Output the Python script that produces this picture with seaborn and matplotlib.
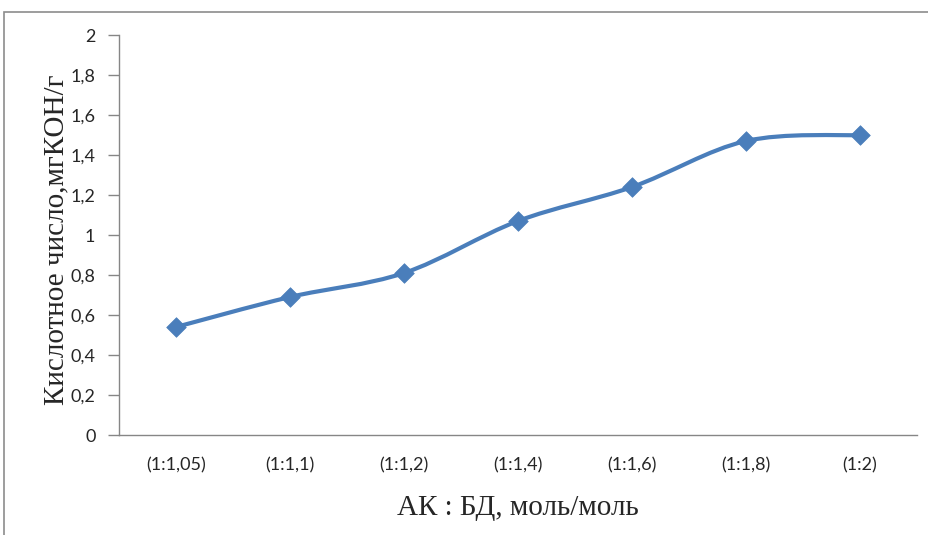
import numpy as np
import pandas as pd
import seaborn as sns
import matplotlib.pyplot as plt
from matplotlib.path import Path
from matplotlib.patches import PathPatch, Rectangle
from matplotlib.ticker import FuncFormatter

categories = ["(1:1,05)", "(1:1,1)", "(1:1,2)", "(1:1,4)", "(1:1,6)", "(1:1,8)", "(1:2)"]
values = [0.54, 0.69, 0.81, 1.07, 1.24, 1.47, 1.50]
y_ticks = [0, 0.2, 0.4, 0.6, 0.8, 1.0, 1.2, 1.4, 1.6, 1.8, 2.0]

sns.set_style("white")
plt.rcParams['font.family'] = ['Lato', 'DejaVu Sans']

color = "#4A7EBB"
df = pd.DataFrame({"x": np.arange(len(categories)) + 0.5, "y": values})

fig = plt.figure(figsize=(9.29, 5.35), dpi=100)
ax = fig.add_axes([119 / 929, 100 / 535, 798 / 929, 400 / 535])

# Excel-like smoothed line (cubic Bezier through points)
xs, ys = df["x"].to_numpy(), df["y"].to_numpy()
n = len(xs)
verts = [(xs[0], ys[0])]
codes = [Path.MOVETO]
for i in range(n - 1):
    p0 = np.array([xs[max(i - 1, 0)], ys[max(i - 1, 0)]])
    p1 = np.array([xs[i], ys[i]])
    p2 = np.array([xs[i + 1], ys[i + 1]])
    p3 = np.array([xs[min(i + 2, n - 1)], ys[min(i + 2, n - 1)]])
    c1 = p1 + (p2 - p0) / 6.0
    c2 = p2 - (p3 - p1) / 6.0
    verts += [tuple(c1), tuple(c2), tuple(p2)]
    codes += [Path.CURVE4] * 3
ax.add_patch(PathPatch(Path(verts, codes), fill=False, edgecolor=color, lw=3,
                       capstyle='round', joinstyle='round', zorder=2))

sns.scatterplot(data=df, x="x", y="y", marker="D", s=100, color=color,
                edgecolor=color, linewidth=0.5, ax=ax, zorder=3, legend=False)

ax.set_xlim(0, len(categories))
ax.set_ylim(0, 2)
ax.set_xticks(np.arange(len(categories)) + 0.5)
ax.set_xticklabels(categories)
ax.set_yticks(y_ticks)
ax.yaxis.set_major_formatter(FuncFormatter(lambda v, p: ("%g" % round(v, 1)).replace(".", ",")))
ax.tick_params(axis='y', which='both', left=True, length=8, width=1, color="#868686",
               labelsize=13, pad=9)
ax.tick_params(axis='x', bottom=False, length=0, labelsize=13, pad=16)
for s in ["top", "right"]:
    ax.spines[s].set_visible(False)
for s in ["left", "bottom"]:
    ax.spines[s].set_color("#868686")
    ax.spines[s].set_linewidth(1)
ax.set_xlabel("")
ax.set_ylabel("")

fig.text(518 / 929, 1 - 508 / 535, "АК : БД, моль/моль", ha="center", va="center",
         family="Liberation Serif", fontsize=21)
fig.text(56 / 929, 1 - 240 / 535, "Кислотное число,мгКОН/г", ha="center", va="center",
         rotation=90, family="Liberation Serif", fontsize=21)

fig.patches.append(Rectangle((4 / 929, -0.1), 1.2, 1 - 12 / 535 + 0.1,
                             transform=fig.transFigure, fill=False,
                             edgecolor="#8c8c8c", lw=1.2, zorder=0))

fig.savefig("out.png", dpi=100, facecolor="white")
